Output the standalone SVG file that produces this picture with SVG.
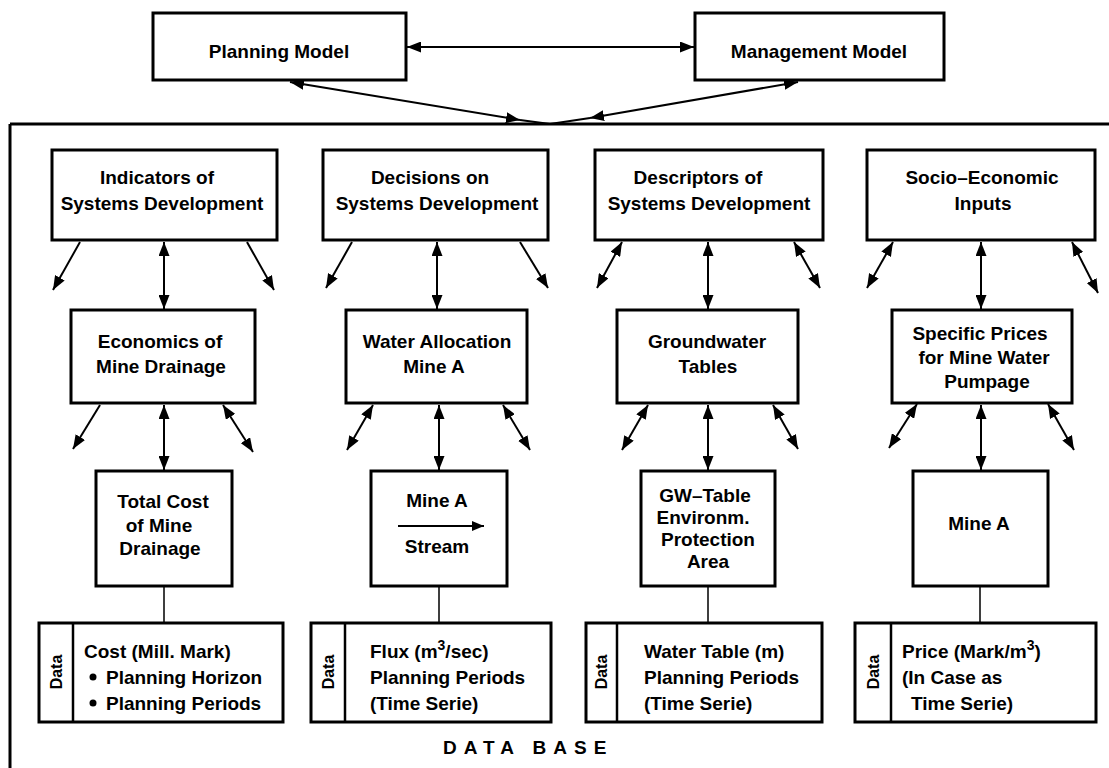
<svg xmlns="http://www.w3.org/2000/svg" width="1109" height="768" viewBox="0 0 1109 768">
<defs>
<marker id="ah" markerUnits="userSpaceOnUse" markerWidth="14" markerHeight="11" viewBox="0 0 14 11" refX="14" refY="5.5" orient="auto-start-reverse"><path d="M0,0 L14,5.5 L0,11 z" fill="#000"/></marker>
<marker id="ahs" markerUnits="userSpaceOnUse" markerWidth="12" markerHeight="10" viewBox="0 0 12 10" refX="12" refY="5" orient="auto"><path d="M0,0 L12,5 L0,10 z" fill="#000"/></marker>
<style>
.box{fill:#fff;stroke:#000;stroke-width:3}
.t{font-family:"Liberation Sans",Arial,sans-serif;font-weight:bold;font-size:19px;text-anchor:middle;fill:#000}
.d{font-family:"Liberation Sans",Arial,sans-serif;font-weight:bold;font-size:19px;fill:#000}
.lab{font-family:"Liberation Sans",Arial,sans-serif;font-weight:bold;font-size:16px;text-anchor:middle;fill:#000}
.c{stroke:#000;stroke-width:2;fill:none}
.b{marker-start:url(#ah);marker-end:url(#ah)}
.e{marker-end:url(#ah)}
.thin{stroke:#000;stroke-width:1.5;fill:none}
.frame{stroke:#000;stroke-width:3;fill:none}
</style>
</defs>
<rect width="1109" height="768" fill="#fff"/>

<g id="data-base">
<path class="frame" d="M10,124 H1109 M10,124 V768"/>
<text class="d" x="443" y="754" style="font-size:19px;letter-spacing:7px">DATA BASE</text>
</g>

<g id="planning-model"><rect class="box" x="153" y="13" width="253" height="67"/><text class="t" x="279" y="58">Planning Model</text></g>
<g id="management-model"><rect class="box" x="695" y="13" width="249" height="67"/><text class="t" x="819" y="58">Management Model</text></g>

<g id="indicators"><rect class="box" x="52" y="150" width="225" height="90"/><text class="t" x="157" y="184">Indicators of</text><text class="t" x="162" y="210">Systems Development</text></g>
<g id="decisions"><rect class="box" x="323" y="150" width="225" height="90"/><text class="t" x="430" y="184">Decisions on</text><text class="t" x="437" y="210">Systems Development</text></g>
<g id="descriptors"><rect class="box" x="595" y="150" width="228" height="90"/><text class="t" x="698" y="184">Descriptors of</text><text class="t" x="709" y="210">Systems Development</text></g>
<g id="socio-economic"><rect class="box" x="867" y="150" width="228" height="90"/><text class="t" x="982" y="184">Socio–Economic</text><text class="t" x="983" y="210">Inputs</text></g>

<g id="economics"><rect class="box" x="71" y="310" width="184" height="93"/><text class="t" x="160" y="348">Economics of</text><text class="t" x="161" y="373">Mine Drainage</text></g>
<g id="water-allocation"><rect class="box" x="346" y="310" width="181" height="93"/><text class="t" x="437" y="348">Water Allocation</text><text class="t" x="434" y="373">Mine A</text></g>
<g id="groundwater"><rect class="box" x="617" y="310" width="181" height="93"/><text class="t" x="707" y="348">Groundwater</text><text class="t" x="708" y="373">Tables</text></g>
<g id="specific-prices"><rect class="box" x="892" y="310" width="180" height="93"/><text class="t" x="980" y="340">Specific Prices</text><text class="t" x="984" y="364">for Mine Water</text><text class="t" x="987" y="388">Pumpage</text></g>

<g id="total-cost"><rect class="box" x="96" y="471" width="136" height="115"/><text class="t" x="163" y="508">Total Cost</text><text class="t" x="159" y="532">of Mine</text><text class="t" x="160" y="555">Drainage</text></g>
<g id="mine-stream"><rect class="box" x="371" y="471" width="136" height="115"/><text class="t" x="437" y="507">Mine A</text><path class="c" d="M398,526 H484" style="marker-end:url(#ahs)"/><text class="t" x="437" y="553">Stream</text></g>
<g id="gw-table"><rect class="box" x="641" y="471" width="134" height="115"/><text class="t" x="705" y="502">GW–Table</text><text class="t" x="703" y="524">Environm.</text><text class="t" x="708" y="546">Protection</text><text class="t" x="708" y="568">Area</text></g>
<g id="mine-a"><rect class="box" x="913" y="471" width="135" height="115"/><text class="t" x="979" y="530">Mine A</text></g>

<g id="data-cost"><rect class="box" x="39" y="623" width="244" height="99"/><line class="thin" x1="73" y1="623" x2="73" y2="722" style="stroke-width:2.5"/><text class="lab" transform="translate(62,672) rotate(-90)">Data</text>
<text class="d" x="84" y="658">Cost (Mill. Mark)</text><circle cx="93" cy="677" r="3.5"/><text class="d" x="106" y="684">Planning Horizon</text><circle cx="93" cy="703" r="3.5"/><text class="d" x="106" y="710">Planning Periods</text></g>
<g id="data-flux"><rect class="box" x="311" y="623" width="240" height="99"/><line class="thin" x1="345" y1="623" x2="345" y2="722" style="stroke-width:2.5"/><text class="lab" transform="translate(334,672) rotate(-90)">Data</text>
<text class="d" x="370" y="658">Flux (m<tspan dy="-8" style="font-size:14px">3</tspan><tspan dy="8">/sec)</tspan></text><text class="d" x="370" y="684">Planning Periods</text><text class="d" x="370" y="710">(Time Serie)</text></g>
<g id="data-water-table"><rect class="box" x="586" y="623" width="236" height="99"/><line class="thin" x1="617" y1="623" x2="617" y2="722" style="stroke-width:2.5"/><text class="lab" transform="translate(607,672) rotate(-90)">Data</text>
<text class="d" x="644" y="658">Water Table (m)</text><text class="d" x="644" y="684">Planning Periods</text><text class="d" x="644" y="710">(Time Serie)</text></g>
<g id="data-price"><rect class="box" x="855" y="623" width="241" height="99"/><line class="thin" x1="891" y1="623" x2="891" y2="722" style="stroke-width:2.5"/><text class="lab" transform="translate(879,672) rotate(-90)">Data</text>
<text class="d" x="902" y="658">Price (Mark/m<tspan dy="-8" style="font-size:14px">3</tspan><tspan dy="8">)</tspan></text><text class="d" x="902" y="684">(In Case as</text><text class="d" x="911" y="710">Time Serie)</text></g>

<g id="connectors">
<path class="c b" d="M407,47 L694,47"/>
<path class="c b" d="M290,82 L520,120"/><path class="c" d="M520,120 L550,124"/>
<path class="c b" d="M798,82 L590,118"/><path class="c" d="M590,118 L550,124"/>

<path class="c b" d="M164,242 V309"/>
<path class="c b" d="M437,242 V309"/>
<path class="c b" d="M708,242 V309"/>
<path class="c b" d="M981,242 V309"/>

<path class="c e" d="M80,242 L53,290"/>
<path class="c e" d="M247,242 L274,290"/>
<path class="c e" d="M352,242 L326,288"/>
<path class="c e" d="M520,242 L548,288"/>
<path class="c b" d="M622,242 L597,288"/>
<path class="c b" d="M794,242 L820,288"/>
<path class="c b" d="M893,242 L867,288"/>
<path class="c b" d="M1072,242 L1098,293"/>

<path class="c b" d="M164,405 V470"/>
<path class="c b" d="M439,405 V470"/>
<path class="c b" d="M708,405 V470"/>
<path class="c b" d="M981,405 V470"/>

<path class="c e" d="M100,405 L73,449"/>
<path class="c b" d="M223,405 L253,452"/>
<path class="c b" d="M373,405 L347,450"/>
<path class="c b" d="M503,405 L530,450"/>
<path class="c b" d="M648,405 L622,450"/>
<path class="c b" d="M773,405 L798,449"/>
<path class="c b" d="M917,404 L889,448"/>
<path class="c b" d="M1048,404 L1074,450"/>

<path class="thin" d="M164,587 V622 M439,587 V622 M708,587 V622 M980,587 V622"/>
</g>
</svg>
